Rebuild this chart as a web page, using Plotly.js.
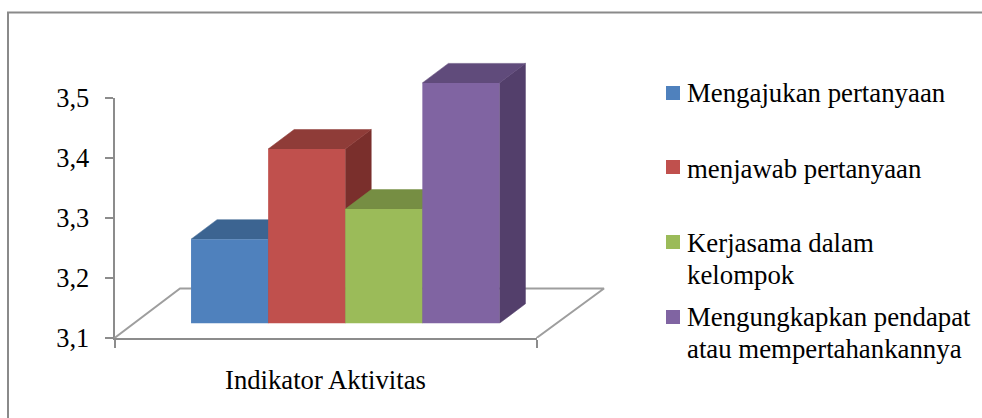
<!DOCTYPE html>
<html><head><meta charset="utf-8">
<script src="https://cdn.plot.ly/plotly-3.0.1.min.js"></script>
<style>html,body{margin:0;padding:0;background:#fff}</style></head>
<body><div id="chart" style="width:982px;height:418px"></div>
<script>
// Data
var seriesNames = ["Mengajukan pertanyaan","menjawab pertanyaan","Kerjasama dalam kelompok","Mengungkapkan pendapat atau mempertahankannya"];
var seriesValues = [3.24,3.39,3.29,3.5];
var categoryLabel = "Indikator Aktivitas";
var yTickVals = [3.1,3.2,3.3,3.4,3.5];
var yTickText = ["3,1","3,2","3,3","3,4","3,5"];
var legendLines = [["Mengajukan pertanyaan"],["menjawab pertanyaan"],["Kerjasama dalam","kelompok"],["Mengungkapkan pendapat","atau mempertahankannya"]];

// Style
var frontColors = ["#4F81BD","#C0504D","#9BBB59","#8064A2"];
var topColors   = ["#3C6491","#8F3C38","#768E43","#604B7B"];
var sideColors  = ["#335680","#7A2F2C","#647A38","#533F6B"];
var W=982,H=418, serif="Liberation Serif, Times New Roman, serif", grey="#8C8C8C";
var axL=114.5, axR=536.5, axB=338, axT=97.5, frontB=323.3, pxPerUnit=601;
var barPx=77.1, firstCenter=229.6;
var depthX=26/barPx, depthY=19.5/pxPerUnit;
function ux(px){return (px-firstCenter)/barPx;}
var xFull=[ux(0),ux(W)];
var traces=[];

// keeps the visible axes alive
traces.push({type:"scatter",mode:"none",xaxis:"x",yaxis:"y",x:[0,1],y:[3.1,3.5],hoverinfo:"skip",showlegend:false});

// floor
var floorDy=49.5/pxPerUnit;
traces.push({type:"scatter",mode:"lines",xaxis:"x2",yaxis:"y",
  x:[ux(axL),ux(180),ux(604),ux(axR)],
  y:[3.1,3.1+floorDy,3.1+floorDy,3.1],
  line:{color:"#9E9E9E",width:2},hoverinfo:"skip",showlegend:false});

// 3D faces
seriesValues.forEach(function(v,i){
  var l=i-0.5,r=i+0.5;
  traces.push({type:"scatter",mode:"lines",xaxis:"x2",yaxis:"y2",fill:"toself",fillcolor:sideColors[i],
    x:[r,r+depthX,r+depthX,r,r],y:[3.1,3.1+depthY,v+depthY,v,3.1],
    line:{color:sideColors[i],width:0.5},hoverinfo:"skip",showlegend:false});
  traces.push({type:"scatter",mode:"lines",xaxis:"x2",yaxis:"y2",fill:"toself",fillcolor:topColors[i],
    x:[l,l+depthX,r+depthX,r,l],y:[v,v+depthY,v+depthY,v,v],
    line:{color:topColors[i],width:0.5},hoverinfo:"skip",showlegend:false});
});
// front faces
seriesValues.forEach(function(v,i){
  traces.push({type:"bar",xaxis:"x3",yaxis:"y2",x:[i],y:[v],width:1,name:seriesNames[i],
    marker:{color:frontColors[i],line:{width:0}},showlegend:false});
});

var annotations=[{xref:"paper",yref:"paper",x:325/W,y:1-380/H,text:categoryLabel,showarrow:false,
  xanchor:"center",yanchor:"middle",font:{family:serif,size:26.7,color:"#000"}}];
var shapes=[{type:"path",xref:"paper",yref:"paper",
  path:"M "+8/W+" 0 L "+8/W+" "+(1-12.5/H)+" L 1 "+(1-12.5/H),line:{color:"#8A8A8A",width:2}}];
var legendTop=[93,169,243,317], swatchTop=[86,160,235,310], lineGap=32;
legendLines.forEach(function(lines,i){
  shapes.push({type:"rect",xref:"paper",yref:"paper",x0:666/W,x1:680/W,y0:1-swatchTop[i]/H,y1:1-(swatchTop[i]+14)/H,
    fillcolor:frontColors[i],line:{width:0}});
  lines.forEach(function(t,j){
    annotations.push({xref:"paper",yref:"paper",x:684.5/W,y:1-(legendTop[i]+j*lineGap)/H,text:t,showarrow:false,
      xanchor:"left",yanchor:"middle",font:{family:serif,size:26.8,color:"#000"}});
  });
});

var hiddenAxis={visible:false,fixedrange:true};
var layout={width:W,height:H,margin:{l:0,r:0,t:0,b:0,pad:0},paper_bgcolor:"#fff",plot_bgcolor:"rgba(0,0,0,0)",
  showlegend:false,barmode:"overlay",hovermode:false,
  xaxis:{domain:[axL/W,axR/W],range:[0,1],anchor:"y",tickmode:"array",tickvals:[0,1],showticklabels:false,
    ticks:"outside",ticklen:8,tickwidth:2,tickcolor:grey,showline:true,linecolor:grey,linewidth:2,showgrid:false,zeroline:false,fixedrange:true},
  yaxis:{domain:[1-axB/H,1-axT/H],range:[3.1,3.5],anchor:"x",tickmode:"array",tickvals:yTickVals,ticktext:yTickText,
    ticks:"outside",ticklen:8,tickwidth:2,tickcolor:grey,showline:true,linecolor:grey,linewidth:2,showgrid:false,zeroline:false,
    tickfont:{family:serif,size:26.4,color:"#000"},ticklabelstandoff:10,fixedrange:true},
  xaxis2:Object.assign({domain:[0,1],range:xFull,anchor:"y2"},hiddenAxis),
  xaxis3:Object.assign({domain:[0,1],range:xFull,anchor:"y2"},hiddenAxis),
  yaxis2:Object.assign({domain:[1-frontB/H,1],range:[3.1,3.1+frontB/pxPerUnit],anchor:"x2"},hiddenAxis),
  annotations:annotations,shapes:shapes};
Plotly.newPlot("chart",traces,layout,{displayModeBar:false,staticPlot:true});
</script></body></html>
